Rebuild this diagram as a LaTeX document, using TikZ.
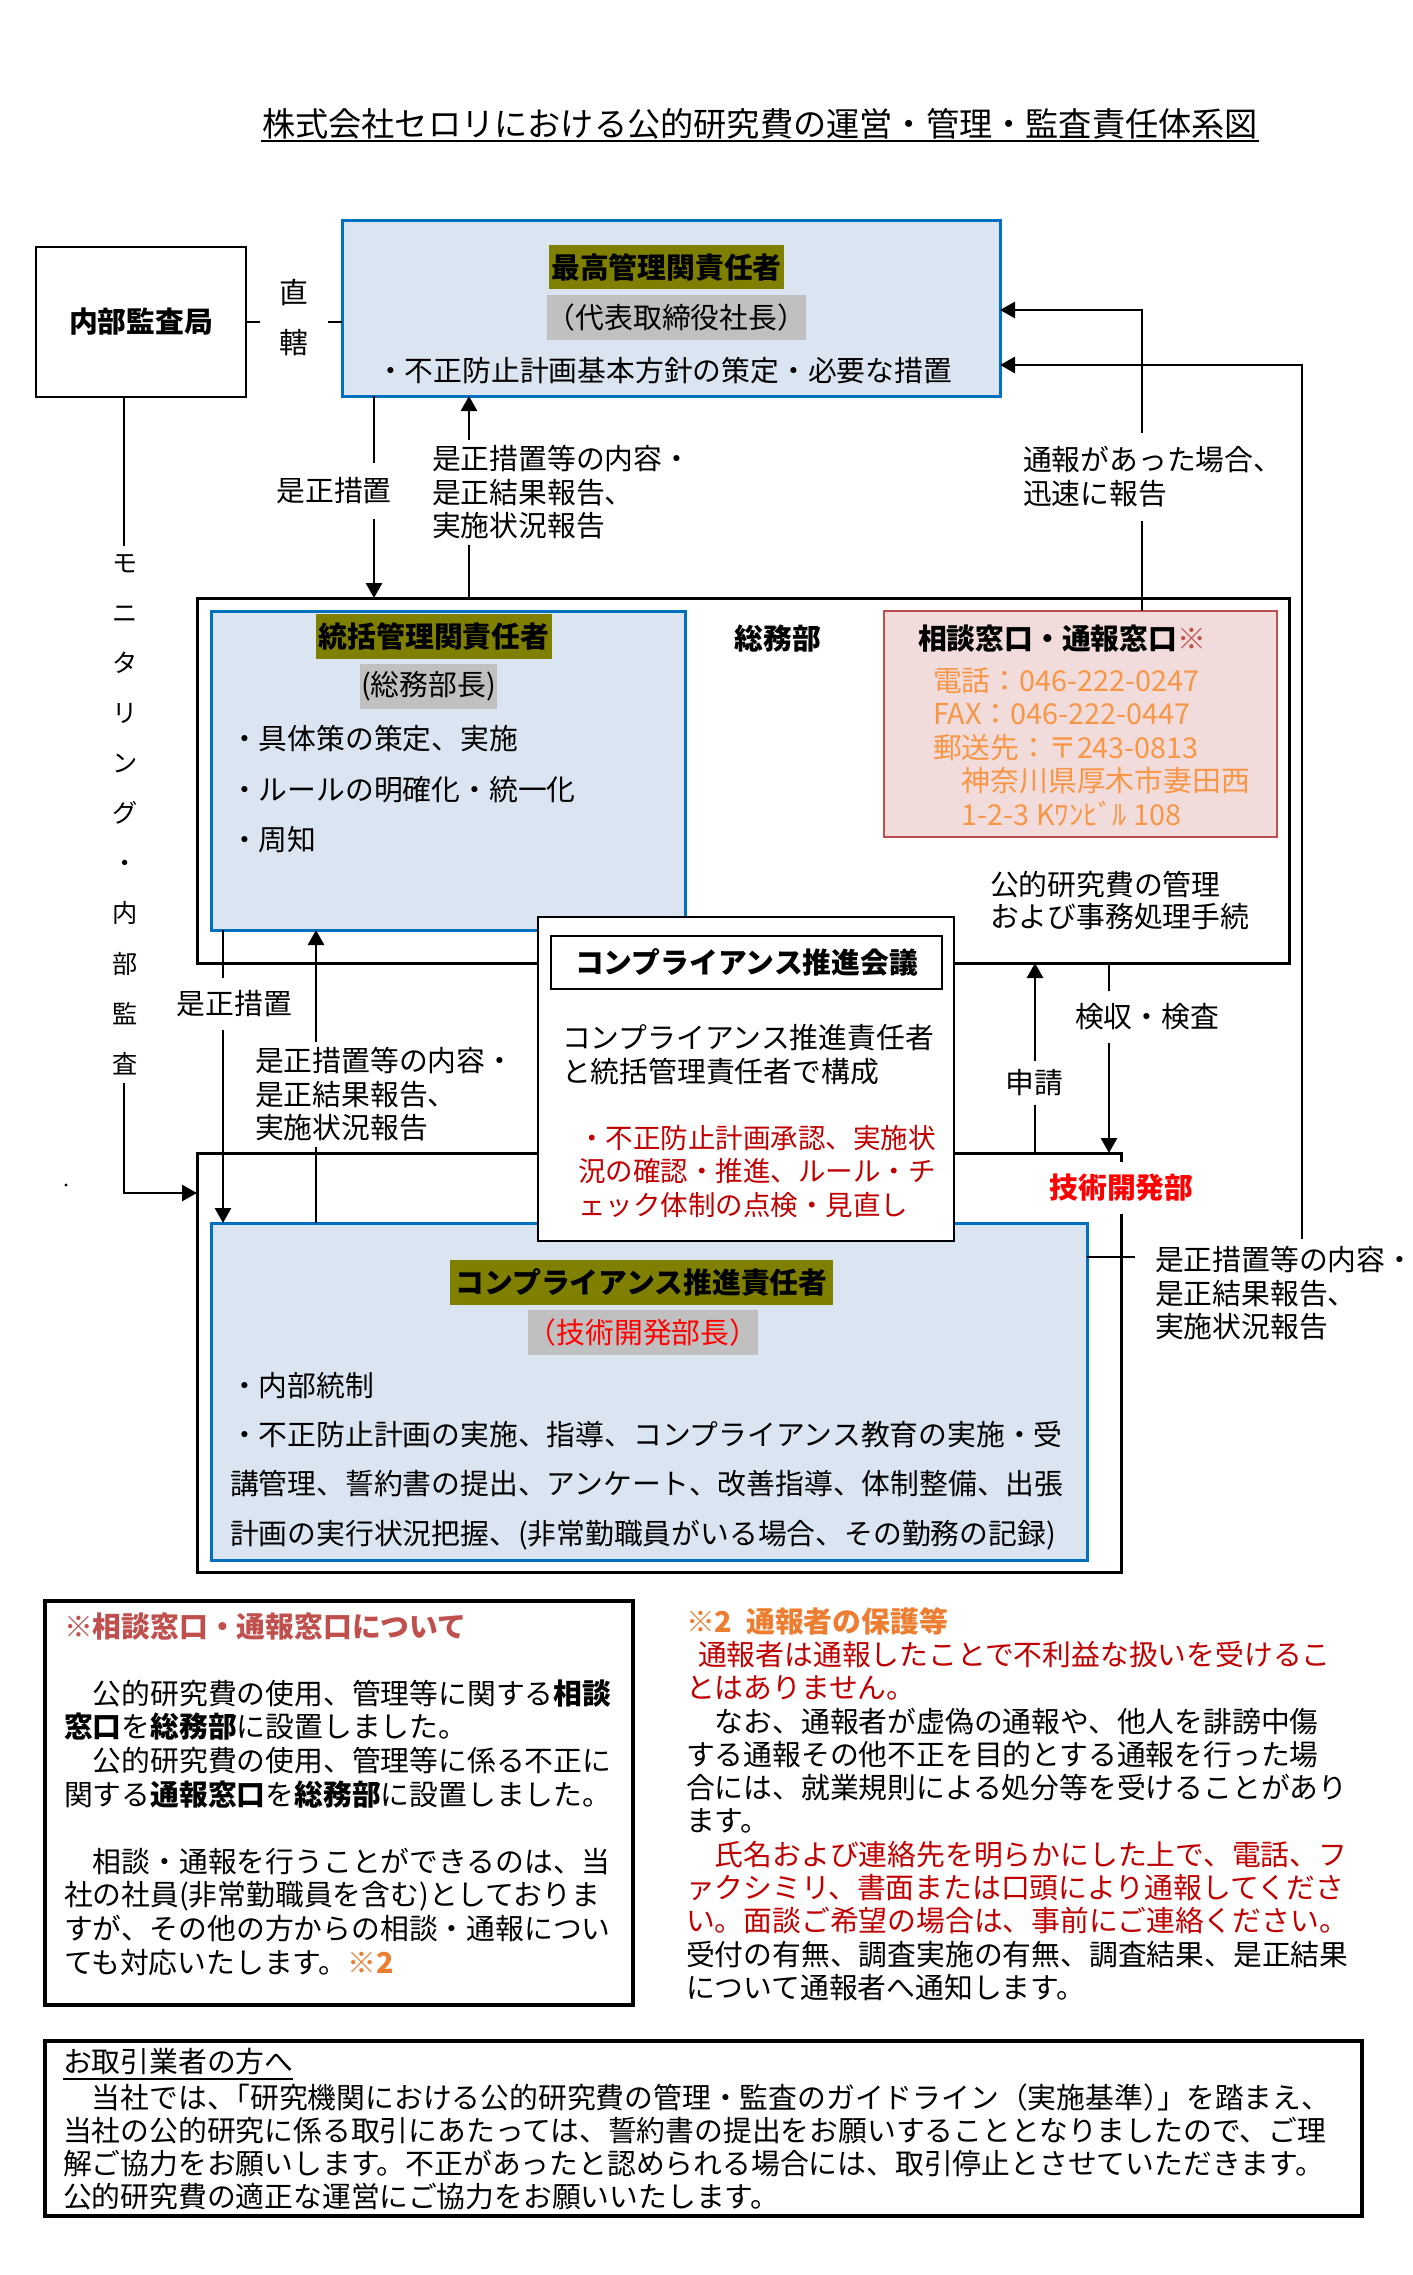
\documentclass[tikz,border=0pt]{standalone}
\usepackage{fontspec}
\setmainfont{Noto Sans CJK JP}
\usetikzlibrary{arrows.meta}
\definecolor{bfill}{HTML}{DBE5F1}
\definecolor{bline}{HTML}{0070C0}
\definecolor{pfill}{HTML}{F2DCDB}
\definecolor{pline}{HTML}{C0504D}
\definecolor{hlolive}{HTML}{808000}
\definecolor{hlgrey}{HTML}{C0C0C0}
\definecolor{redA}{HTML}{FF0000}
\definecolor{redB}{HTML}{C00000}
\definecolor{orgA}{HTML}{F79646}
\definecolor{orgB}{HTML}{ED7D31}
\newcommand\jfs[2]{\fontsize{#1}{#2}\selectfont}
\begin{document}
\begin{tikzpicture}[x=0.5pt,y=-0.5pt,
  every node/.style={inner sep=0pt,outer sep=0pt,font=\jfs{14.4pt}{16.75pt}},
  sz/.style 2 args={minimum width=#1pt,minimum height=#2pt},
  bx/.style={draw,line width=1.5pt,rectangle},
  blubx/.style={draw=bline,fill=bfill,line width=1.5pt,rectangle},
  pinkbx/.style={draw=pline,fill=pfill,line width=1.3pt,rectangle},
  olv/.style={fill=hlolive,font=\jfs{14.4pt}{16.75pt}\bfseries},
  gry/.style={fill=hlgrey},
  conn/.style={line width=1.4pt},
  arr/.style={conn,-{Triangle[length=7.5pt,width=8pt]}},
  wlbl/.style={fill=white,inner xsep=2pt},
  bld/.style={font=\jfs{14.4pt}{16.75pt}\bfseries}]
\useasboundingbox (0,0) rectangle (1413,2275);
\fill[white] (0,0) rectangle (1413,2275);

% title
\node[font=\jfs{16.6pt}{20pt}] (title) at (760,124) {株式会社セロリにおける公的研究費の運営・管理・監査責任体系図};
\draw[line width=1.2pt] (261,141) -- (1259,141);

% boxes
\node[bx,line width=1.3pt,sz={105}{75},bld] (audit) at (141,322) {内部監査局};
\node[blubx,sz={329}{88}] (top) at (671,308) {};
\node[bx,sz={546}{182.5}] (soumu) at (743,780.5) {};
\node[blubx,sz={237}{159.5}] (tokatsu) at (448,770.5) {};
\node[pinkbx,sz={196.5}{113}] (pink) at (1080.5,724) {};
\node[bx,sz={462}{209.5}] (gijutsu) at (659,1362.5) {};
\node[blubx,sz={438}{168.5}] (officer) at (649,1391.5) {};
\node[bx,line width=1.4pt,fill=white,sz={208}{162}] (meeting) at (746,1079) {};
\node[bx,line width=1.3pt,sz={195.5}{26.5},bld] (mtitle) at (746.5,962.5) {コンプライアンス推進会議};
\node[bx,line width=1.7pt,sz={294}{202}] (note1) at (339,1803) {};
\node[bx,line width=1.7pt,sz={658.5}{87.5}] (bottom) at (703.5,2128.5) {};

% highlights
\node[olv,sz={117.5}{22}] (h1) at (666.5,267) {最高管理関責任者};
\node[gry,sz={112.5}{22.5}] (h2) at (676.5,317.5) {（代表取締役社長）};
\node[olv,sz={118}{22.5}] (h3) at (434,636.5) {統括管理関責任者};
\node[gry,sz={68.5}{22.5}] (h4) at (428.5,686.5) {(総務部長)};
\node[olv,sz={191.5}{22.5}] (h5) at (641.5,1282.5) {コンプライアンス推進責任者};
\node[gry,sz={105}{22.5},text=redA] (h6) at (643,1332.5) {（技術開発部長）};

% texts inside boxes
\node (topbul) at (664,371) {・不正防止計画基本方針の策定・必要な措置};
\node[align=left,anchor=west,font=\jfs{14.4pt}{25.25pt}] (tkbul) at (230,789.5) {・具体策の策定、実施\\・ルールの明確化・統一化\\・周知};
\node[bld] (soumulbl) at (778,639) {総務部};
\node[bld,anchor=west] (pinktitle) at (918,639) {相談窓口・通報窓口\textcolor{pline}{※}};
\node[align=left,anchor=west,text=orgA] (pinktxt) at (933,747) {電話：046-222-0247\\FAX：046-222-0447\\郵送先：〒243-0813\\　神奈川県厚木市妻田西\\　1-2-3 Kﾜﾝﾋﾞﾙ 108};
\node[align=left,anchor=west,font=\jfs{14.4pt}{16pt}] (kanri) at (990,901) {公的研究費の管理\\および事務処理手続};
\node[align=left,anchor=west,font=\jfs{14.4pt}{17pt}] (mtxt) at (562,1055) {コンプライアンス推進責任者\\と統括管理責任者で構成};
\node[align=left,anchor=west,text=redB,font=\jfs{13.75pt}{16.75pt}] (mred) at (578,1171.5) {・不正防止計画承認、実施状\\況の確認・推進、ルール・チ\\ェック体制の点検・見直し};
\node[align=left,anchor=west,font=\jfs{14.4pt}{24.65pt}] (offbul) at (230,1461) {・内部統制\\・不正防止計画の実施、指導、コンプライアンス教育の実施・受\\講管理、誓約書の提出、アンケート、改善指導、体制整備、出張\\計画の実行状況把握、(非常勤職員がいる場合、その勤務の記録)};

% connectors
\coordinate (pB) at (124,1193);
\coordinate (pC) at (374,0);
\coordinate (pD) at (469,0);
\coordinate (pE) at (1142,310);
\coordinate (pF) at (1302,365);
\coordinate (fEnd) at (1302,1239);
\coordinate (pG) at (223,0);
\coordinate (pH) at (316,0);
\coordinate (pI) at (1035,0);
\coordinate (pJ) at (1109,0);
\coordinate (pK) at (1135,1257);

\draw[conn] (audit.east) -- (audit.east -| top.west);
\draw[arr] (audit.south -| pB) -- (pB) -- (gijutsu.west |- pB);
\draw[arr] (top.south -| pC) -- (soumu.north -| pC);
\draw[arr] (soumu.north -| pD) -- (top.south -| pD);
\draw[arr] (pink.north -| pE) -- (pE) -- (top.east |- pE);
\draw[arr] (fEnd) -- (pF) -- (top.east |- pF);
\draw[arr] (tokatsu.south -| pG) -- (officer.north -| pG);
\draw[arr] (officer.north -| pH) -- (tokatsu.south -| pH);
\draw[arr] (gijutsu.north -| pI) -- (soumu.south -| pI);
\draw[arr] (soumu.south -| pJ) -- (gijutsu.north -| pJ);
\draw[conn] (officer.east |- pK) -- (pK);

% labels on connectors
\node[fill=white,inner xsep=10pt,align=center,font=\jfs{14.4pt}{25pt}] (chokkatsu) at (294,318) {直\\轄};
\node[fill=white,inner xsep=2pt,inner ysep=4pt,align=center,font=\jfs{12.6pt}{25.05pt}] (monitor) at (125,814.5) {モ\\ニ\\タ\\リ\\ン\\グ\\・\\内\\部\\監\\査};
\node[wlbl,inner ysep=7.5pt] (L1) at (334,491) {是正措置};
\node[wlbl,inner ysep=3pt,align=left,anchor=west] (L2) at (428,492.5) {是正措置等の内容・\\是正結果報告、\\実施状況報告};
\node[wlbl,inner ysep=7pt,align=left,anchor=west,font=\jfs{14.4pt}{17pt}] (L3) at (1019,477) {通報があった場合、\\迅速に報告};
\node[wlbl,inner ysep=6.5pt] (L5) at (234.5,1004) {是正措置};
\node[wlbl,inner ysep=3pt,align=left,anchor=west] (L6) at (251,1094.5) {是正措置等の内容・\\是正結果報告、\\実施状況報告};
\node[wlbl,inner ysep=4.5pt] (L7) at (1034.5,1083) {申請};
\node[wlbl,inner ysep=6.5pt] (L8) at (1147,1017) {検収・検査};
\node[wlbl,inner ysep=6pt,bld,text=redA] (L9) at (1121.5,1188) {技術開発部};
\node[align=left,anchor=west] (L10) at (1155,1293.5) {是正措置等の内容・\\是正結果報告、\\実施状況報告};

\fill (66,1185) circle[radius=0.8pt];

% note 1
\node[align=left,anchor=west,font=\jfs{14.4pt}{16.8pt}] (note1txt) at (64,1794) {{\bfseries\color{pline}※相談窓口・通報窓口について}\\
\mbox{}\\
　公的研究費の使用、管理等に関する{\bfseries 相談}\\
{\bfseries 窓口}を{\bfseries 総務部}に設置しました。\\
　公的研究費の使用、管理等に係る不正に\\
関する{\bfseries 通報窓口}を{\bfseries 総務部}に設置しました。\\
\mbox{}\\
　相談・通報を行うことができるのは、当\\
社の社員(非常勤職員を含む)としておりま\\
すが、その他の方からの相談・通報につい\\
ても対応いたします。{\bfseries\color{orgB}※2}};

% note 2
\node[align=left,anchor=west,font=\jfs{14.4pt}{16.65pt}] (note2txt) at (686,1804) {{\bfseries\color{orgB}※2\hspace{7pt}通報者の保護等}\\
{\color{redB}\hspace{6pt}通報者は通報したことで不利益な扱いを受けるこ}\\
{\color{redB}とはありません。}\\
　なお、通報者が虚偽の通報や、他人を誹謗中傷\\
する通報その他不正を目的とする通報を行った場\\
合には、就業規則による処分等を受けることがあり\\
ます。\\
{\color{redB}　氏名および連絡先を明らかにした上で、電話、フ}\\
{\color{redB}ァクシミリ、書面または口頭により通報してくださ}\\
{\color{redB}い。面談ご希望の場合は、事前にご連絡ください。}\\
受付の有無、調査実施の有無、調査結果、是正結果\\
について通報者へ通知します。};

% bottom box
\node[anchor=west] (bhead) at (63,2062) {お取引業者の方へ};
\draw[line width=1.2pt] (bhead.south west |- 0,2079) -- (bhead.south east |- 0,2079);
\node[align=left,anchor=west,font=\jfs{14.4pt}{16.6pt}] (btxt) at (63,2147) {　当社では、\kern-.5em「研究機関における公的研究費の管理・監査のガイドライン（実施基準）\kern-.5em」を踏まえ、\\
当社の公的研究に係る取引にあたっては、誓約書の提出をお願いすることとなりましたので、ご理\\
解ご協力をお願いします。不正があったと認められる場合には、取引停止とさせていただきます。\\
公的研究費の適正な運営にご協力をお願いいたします。};
\end{tikzpicture}
\end{document}
